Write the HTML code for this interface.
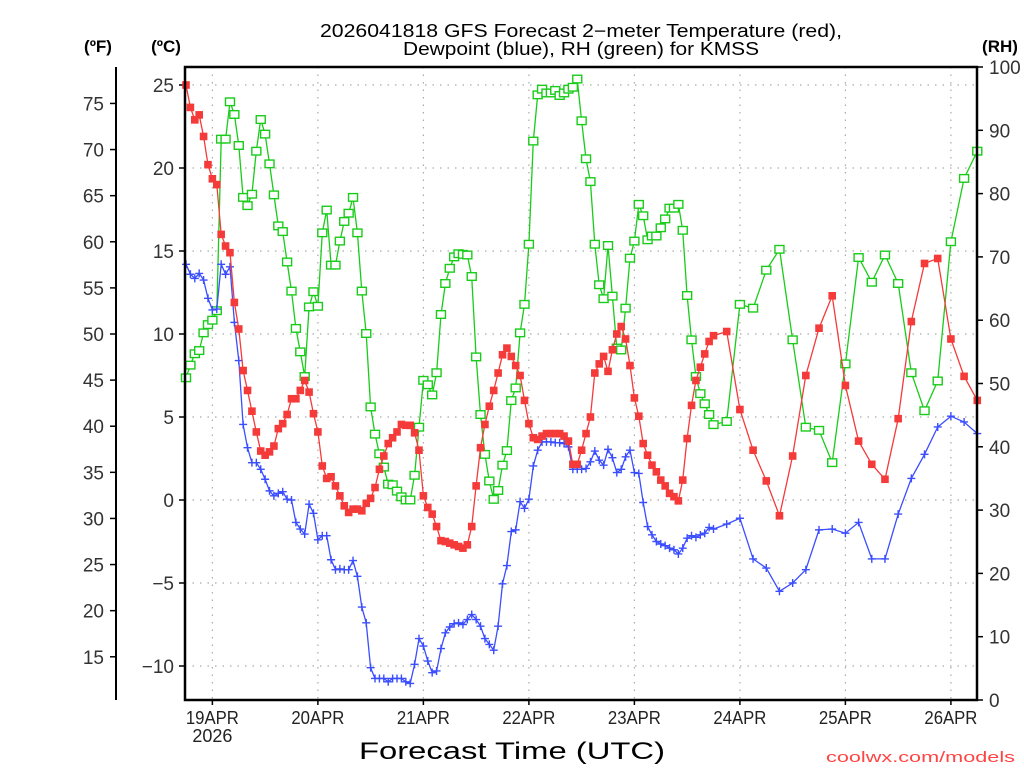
<!DOCTYPE html>
<html><head><meta charset="utf-8"><style>
html,body{margin:0;padding:0;background:#fff;}
svg{display:block;font-family:"Liberation Sans",sans-serif;}
</style></head><body>
<svg id="chart" width="1024" height="768" viewBox="0 0 1024 768" xmlns="http://www.w3.org/2000/svg">
<rect width="1024" height="768" fill="#fff"/>
<g fill="#000" font-size="18" text-anchor="middle">
<text x="581" y="37" textLength="522" lengthAdjust="spacingAndGlyphs">2026041818 GFS Forecast 2−meter Temperature (red),</text>
<text x="581" y="55" textLength="356" lengthAdjust="spacingAndGlyphs">Dewpoint (blue), RH (green) for KMSS</text>
</g>
<text x="98" y="52" font-size="17" font-weight="bold" text-anchor="middle">(ºF)</text>
<text x="166" y="52" font-size="17" font-weight="bold" text-anchor="middle">(ºC)</text>
<text x="1000" y="52" font-size="17" font-weight="bold" text-anchor="middle">(RH)</text>
<g id="grid"></g>
<g id="axes"></g>
<g id="series"></g>
<rect x="185" y="67" width="792" height="633" fill="none" stroke="#000" stroke-width="2.5"/>
<text x="512" y="759" font-size="24" text-anchor="middle" textLength="306" lengthAdjust="spacingAndGlyphs">Forecast Time (UTC)</text>
<text x="1015" y="762" font-size="15" fill="#f44" text-anchor="end" textLength="189" lengthAdjust="spacingAndGlyphs">coolwx.com/models</text>
</svg>
<script>
const hours = [0,1,2,3,4,5,6,7,8,9,10,11,12,13,14,15,16,17,18,19,20,21,22,23,24,25,26,27,28,29,30,31,32,33,34,35,36,37,38,39,40,41,42,43,44,45,46,47,48,49,50,51,52,53,54,55,56,57,58,59,60,61,62,63,64,65,66,67,68,69,70,71,72,73,74,75,76,77,78,79,80,81,82,83,84,85,86,87,88,89,90,91,92,93,94,95,96,97,98,99,100,101,102,103,104,105,106,107,108,109,110,111,112,113,114,115,116,117,118,119,120,123,126,129,132,135,138,141,144,147,150,153,156,159,162,165,168,171,174,177,180];
const tempC = [25.0,23.65,22.9,23.2,21.9,20.2,19.35,19.0,16.0,15.3,14.9,11.9,10.3,7.8,6.6,5.35,4.1,2.95,2.7,2.9,3.25,4.3,4.6,5.15,6.1,6.1,6.6,7.2,6.5,5.2,4.1,2.05,1.3,1.4,0.85,0.25,-0.35,-0.75,-0.55,-0.55,-0.65,-0.2,0.1,0.75,1.85,2.65,3.4,3.75,4.1,4.55,4.5,4.5,4.05,3.0,0.25,-0.45,-0.85,-1.6,-2.45,-2.5,
-2.6,-2.7,-2.8,-2.9,-2.7,-1.6,0.85,3.15,4.55,5.65,6.6,7.65,8.75,9.15,8.65,8.1,7.5,6.0,4.6,3.75,3.65,3.85,4.0,4.0,4.0,4.0,3.85,3.55,2.15,2.15,3.0,4.0,5.0,7.65,8.2,8.65,7.75,9.05,10.0,10.45,9.7,8.1,6.15,5.05,3.4,2.7,2.1,1.7,1.2,0.85,0.4,0.2,-0.05,1.2,3.7,5.7,7.2,8.0,8.8,9.55,9.9,
10.15,5.45,3.0,1.15,-0.95,2.65,7.5,10.35,12.3,6.9,3.55,2.15,1.25,4.9,10.75,14.25,14.55,9.7,7.45,6.0];
const dewC = [14.2,13.6,13.35,13.65,13.25,12.15,11.45,11.5,14.2,13.6,14.05,10.7,8.4,4.55,3.15,2.25,2.25,1.85,1.25,0.55,0.25,0.4,0.5,0.05,0.0,-1.35,-1.75,-2.05,-0.25,-0.8,-2.4,-2.15,-2.15,-3.6,-4.2,-4.15,-4.2,-4.2,-3.65,-4.6,-6.45,-7.4,-10.1,-10.75,-10.75,-10.75,-10.95,-10.75,-10.75,-10.75,-10.95,-11.05,-9.9,-8.35,-8.8,-9.7,-10.4,-10.3,-8.95,-8.0,-7.65,
-7.45,-7.4,-7.5,-7.2,-6.9,-7.2,-7.6,-8.35,-8.7,-9.05,-7.6,-5.05,-3.95,-1.9,-1.8,-0.1,-0.5,0.05,2.05,3.0,3.5,3.5,3.5,3.45,3.45,3.4,3.2,1.85,1.85,1.85,1.9,2.3,2.95,2.4,2.1,3.05,2.55,1.65,1.85,2.6,3.0,1.65,1.6,-0.15,-1.6,-2.1,-2.5,-2.65,-2.75,-2.9,-3.0,-3.25,-2.9,-2.3,-2.15,-2.25,-2.1,-2.0,-1.65,-1.75,
-1.45,-1.1,-3.55,-4.1,-5.5,-5.0,-4.2,-1.8,-1.75,-2.0,-1.35,-3.55,-3.55,-0.85,1.3,2.75,4.4,5.05,4.7,4.0];
const rh = [50.9,52.9,54.7,55.2,58.0,59.3,60.0,61.5,88.6,88.6,94.5,92.5,87.6,79.4,78.1,79.9,86.7,91.7,89.4,84.7,79.8,74.9,74.0,69.2,64.6,58.7,55.0,51.1,62.1,64.5,62.2,73.8,77.4,68.7,68.7,72.5,75.6,76.9,79.4,73.8,64.6,57.9,46.3,42.0,38.9,36.8,34.1,34.0,33.0,32.1,31.6,31.6,35.5,43.1,50.5,49.8,48.2,51.7,60.9,65.8,68.2,
70.0,70.5,70.4,70.3,66.9,54.2,45.1,38.8,34.6,31.7,33.1,37.1,39.4,47.3,49.3,58.0,62.5,72.0,88.3,95.6,96.5,95.9,95.9,96.3,95.5,95.9,96.5,96.8,98.1,91.5,85.5,81.9,72.0,65.6,63.4,71.8,63.8,55.6,55.3,61.9,69.8,72.5,78.3,76.5,72.7,73.3,73.3,74.6,76.0,77.7,77.7,78.3,74.2,63.9,56.9,51.1,48.4,46.8,45.1,43.5,
44.0,62.5,61.9,67.9,71.2,56.9,43.1,42.6,37.5,53.1,69.9,66.0,70.3,65.8,51.7,45.7,50.4,72.4,82.4,86.7];
const celsiusTicks = [25,20,15,10,5,0,-5,-10];
const fahrenheitTicks = [75,70,65,60,55,50,45,40,35,30,25,20,15];
const rhTicks = [0,10,20,30,40,50,60,70,80,90,100];
const dayLabels = ["19APR","20APR","21APR","22APR","23APR","24APR","25APR","26APR"];
const dayHours = [6,30,54,78,102,126,150,174];

const NS="http://www.w3.org/2000/svg";
const X0=186, PXH=4.396;
const xs = h => X0 + h*PXH;
const yC = t => 500 - t*16.6;
const yF = f => yC((f-32)*5/9);
const yRH = r => 700 - r*6.33;
function mk(tag, attrs, parent){const e=document.createElementNS(NS,tag);for(const k in attrs)e.setAttribute(k,attrs[k]);parent.appendChild(e);return e;}
const grid=document.getElementById('grid'), axes=document.getElementById('axes'), series=document.getElementById('series');

celsiusTicks.forEach(t=>{
  const l=mk('line',{x1:185,x2:977,y1:yC(t),y2:yC(t),stroke:'#aaa','stroke-width':1.2,'stroke-dasharray':'1.5 6'},grid);
  
  
  const tk=mk('line',{x1:179,x2:185,y1:yC(t),y2:yC(t),stroke:'#000','stroke-width':1.5},axes);
  
  
  const tx=mk('text',{x:174,y:yC(t)+7,'font-size':19,fill:'#333','text-anchor':'end'},axes);
  tx.textContent = t<0 ? '−'+(-t) : String(t);
  
  
});
dayHours.forEach((h,i)=>{
  const l=mk('line',{x1:xs(h),x2:xs(h),y1:67,y2:700,stroke:'#aaa','stroke-width':1.2,'stroke-dasharray':'1.5 6'},grid);
  
  
  const tk=mk('line',{x1:xs(h),x2:xs(h),y1:700,y2:705,stroke:'#000','stroke-width':1.5},axes);
  
  
  const tx=mk('text',{x:xs(h),y:724,'font-size':18,fill:'#222','text-anchor':'middle',textLength:53,lengthAdjust:'spacingAndGlyphs'},axes);
  tx.textContent=dayLabels[i];
  
  
});
const yr=mk('text',{x:xs(dayHours[0]),y:742,'font-size':18,fill:'#222','text-anchor':'middle'},axes);
yr.textContent='2026';



const fl=mk('line',{x1:116,x2:116,y1:67,y2:700,stroke:'#000','stroke-width':2},axes);


fahrenheitTicks.forEach(f=>{
  const tk=mk('line',{x1:110,x2:116,y1:yF(f),y2:yF(f),stroke:'#000','stroke-width':1.5},axes);
  
  
  const tx=mk('text',{x:104,y:yF(f)+7,'font-size':19,fill:'#333','text-anchor':'end'},axes);
  tx.textContent=String(f);
  
  
});
rhTicks.forEach(r=>{
  const tk=mk('line',{x1:977,x2:983,y1:yRH(r),y2:yRH(r),stroke:'#000','stroke-width':1.5},axes);
  
  
  const tx=mk('text',{x:989,y:yRH(r)+7,'font-size':19,fill:'#333','text-anchor':'start'},axes);
  tx.textContent=String(r);
  
  
});

function drawSeries(vals, yfn, color, kind, name){
  const g=mk('g',{},series);
  
  
  const pts=vals.map((v,i)=>xs(hours[i]).toFixed(1)+','+yfn(v).toFixed(1)).join(' ');
  const pl=mk('polyline',{points:pts,fill:'none',stroke:color,'stroke-width':1.3},g);
  
  
  vals.forEach((v,i)=>{
    const x=xs(hours[i]), y=yfn(v);
    let m;
    if(kind==='filled'){
      m=mk('rect',{x:x-3.8,y:y-3.8,width:7.6,height:7.6,fill:color},g);
    }else if(kind==='open'){
      m=mk('rect',{x:x-4.5,y:y-3.8,width:9,height:7.6,fill:'#fff',stroke:color,'stroke-width':1.4},g);
    }else{
      m=mk('path',{d:`M${x-4},${y}H${x+4}M${x},${y-4}V${y+4}`,stroke:color,'stroke-width':1.4,fill:'none'},g);
    }
    
    
  });
}
drawSeries(rh, yRH, '#19cc19', 'open', 'rh');
drawSeries(dewC, yC, '#3a4dff', 'plus', 'dewpoint');
drawSeries(tempC, yC, '#f53a3a', 'filled', 'temperature');
</script>
</body></html>
